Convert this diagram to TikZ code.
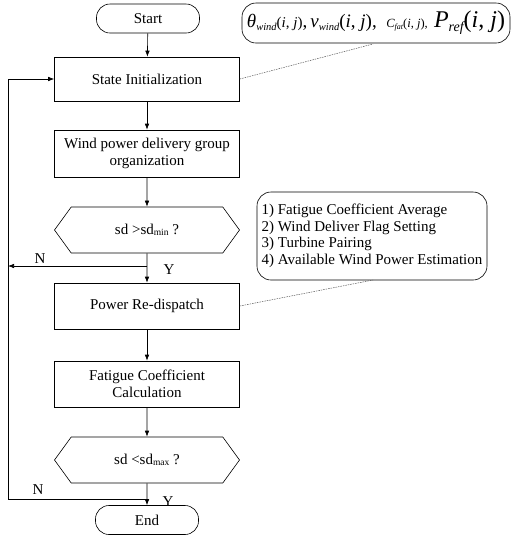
\documentclass[tikz,border=0pt]{standalone}
\usepackage{fontspec}
\setmainfont{Liberation Serif}
\usetikzlibrary{shapes.symbols,arrows.meta}
\newcommand\fs[1]{\fontsize{#1}{#1}\selectfont}
\begin{document}
\begin{tikzpicture}[x=1pt,y=-1pt,
  every node/.style={font=\fontsize{15}{17.5}\selectfont},
  proc/.style={draw, line width=0.6pt, minimum width=185pt, align=center, inner sep=2pt},
  term/.style={draw, line width=0.6pt, rounded corners=13.5pt, minimum width=103pt, minimum height=29pt},
  decide/.style={draw, line width=0.6pt, signal, signal to=west and east, signal pointer angle=108, minimum width=185pt, minimum height=46pt},
  note/.style={draw, line width=0.6pt, rounded corners=14pt},
  flow/.style={line width=0.6pt, -{Latex[length=6pt,width=4.5pt]}},
  link/.style={line width=0.5pt, dash pattern=on 1.5pt off 1pt, gray!70!black},
  lbl/.style={font=\fontsize{15}{16}\selectfont}]
\useasboundingbox (0,0) rectangle (516,550);
\node[term] (start) at (148,18.5) {Start};
\node[proc, minimum height=44pt] (init) at (147,79) {State Initialization};
\node[proc, minimum height=47pt] (wind) at (147,153.5) {Wind power delivery group\\organization};
\node[decide] (d1) at (147,230) {sd >sd\raisebox{-0.5pt}{\fs{9.5}min} ?};
\node[proc, minimum height=46pt] (pr) at (147,306) {Power Re-dispatch};
\node[proc, minimum height=46pt] (fc) at (147,384) {Fatigue Coefficient\\Calculation};
\node[decide] (d2) at (147,460) {sd <sd\raisebox{-0.5pt}{\fs{9.5}max} ?};
\node[term] (end) at (147,520) {End};

\node[note, minimum width=268pt, minimum height=40pt, inner sep=1pt] (n1) at (376,23) {{\fs{19}\itshape θ\raisebox{-3pt}{\fs{10.5}wind}}{\fs{15}(\textit{i}, \textit{j})}{\fs{19},\,\textit{v}\raisebox{-3pt}{\fs{10.5}\itshape wind}(\textit{i}, \textit{j}),\ \ }{\fs{12.5}\textit{C}\raisebox{-1.5pt}{\fs{8}\itshape fat}(\textit{i}, \textit{j}),\ \ }{\fs{24}\textit{P}\raisebox{-4pt}{\fs{14}\itshape ref}(\textit{i}, \textit{j})}};
\node[note, minimum width=230pt, minimum height=88pt, align=left, inner sep=2pt, font=\fontsize{15}{16.6}\selectfont] (n2) at (372,236) {1) Fatigue Coefficient Average\\2) Wind Deliver Flag Setting\\3) Turbine Pairing\\4) Available Wind Power Estimation};

\coordinate (l1) at (8,266);
\coordinate (j1) at (147,266);
\coordinate (j2) at (147,499);
\coordinate (c1) at (8,499);
\coordinate (c2) at (8,79);

\draw[flow] (start) -- (init);
\draw[flow] (init) -- (wind);
\draw[flow] (wind) -- (d1);
\draw[flow] (d1) -- (pr);
\draw[flow] (j1) -- (l1);
\draw[flow] (pr) -- (fc);
\draw[flow] (fc) -- (d2);
\draw[flow] (d2) -- (end);
\draw[flow] (j2) -- (c1) -- (c2) -- (init.west);

\node[lbl] (nlab1) at (40,259) {N};
\node[lbl] (ylab1) at (169,270) {Y};
\node[lbl] (nlab2) at (38,490) {N};
\node[lbl] (ylab2) at (168,502) {Y};

\draw[link] (init.east) -- (373,44);
\draw[link] (pr.east) -- (373,280);
\end{tikzpicture}
\end{document}
